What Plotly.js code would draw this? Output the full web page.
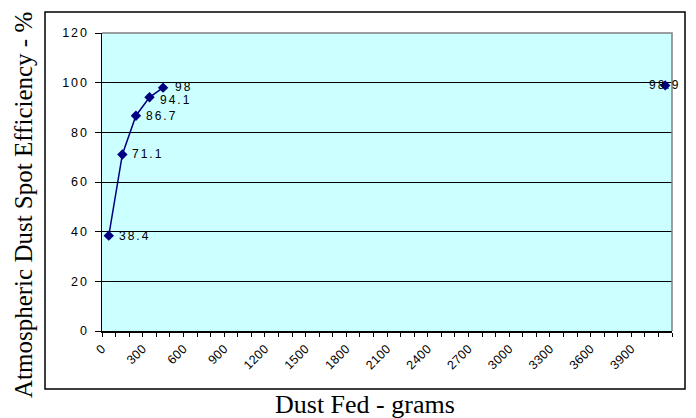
<!DOCTYPE html>
<html>
<head>
<meta charset="utf-8">
<script src="https://cdn.plot.ly/plotly-3.0.1.min.js"></script>
<style>
  html, body { margin: 0; padding: 0; background: #fff; }
  #chart { width: 696px; height: 418px; }
  .ytick text { letter-spacing: 2px; }
  .xtick text { letter-spacing: 0.3px; }
  .annotation.dl text { letter-spacing: 2px; }
</style>
</head>
<body>
<div id="chart"></div>
<script>
// Data
const dustFed = [50, 150, 250, 350, 450, 4150];
const efficiency = [38.4, 71.1, 86.7, 94.1, 98, 98.9];
const pointLabels = ['38.4', '71.1', '86.7', '94.1', '98', '98.9'];
const connectedCount = 5;
const xTickVals = [0, 300, 600, 900, 1200, 1500, 1800, 2100, 2400, 2700, 3000, 3300, 3600, 3900];
const yTickVals = [0, 20, 40, 60, 80, 100, 120];
const xTitle = 'Dust Fed - grams';
const yTitle = 'Atmospheric Dust Spot Efficiency - %';

const navy = '#000080';

const traces = [
  {
    x: dustFed.slice(0, connectedCount),
    y: efficiency.slice(0, connectedCount),
    mode: 'lines+markers',
    line: { color: navy, width: 1.5 },
    marker: { symbol: 'diamond', size: 8, color: navy },
    hoverinfo: 'x+y'
  },
  {
    x: dustFed.slice(connectedCount),
    y: efficiency.slice(connectedCount),
    mode: 'markers',
    marker: { symbol: 'diamond', size: 8, color: navy },
    hoverinfo: 'x+y'
  }
];

const labelFont = { family: 'Liberation Sans, Arial, sans-serif', size: 12, color: '#000' };
const annotations = dustFed.map((xv, i) => {
  const last = i >= connectedCount;
  return {
    x: xv, y: efficiency[i], xref: 'x', yref: 'y',
    text: pointLabels[i], showarrow: false,
    xanchor: last ? 'center' : 'left',
    yanchor: 'middle',
    xshift: last ? 0 : 12,
    yshift: (i === 3) ? -3 : (i === 4 ? 1 : 0),
    font: labelFont
  };
});

annotations.push({
  x: (365 - 102) / 570, y: (331 - 404) / 298, xref: 'paper', yref: 'paper',
  text: xTitle, showarrow: false, xanchor: 'center', yanchor: 'middle',
  font: { family: 'Liberation Serif, Times New Roman, serif', size: 26, color: '#000' }
});
annotations.push({
  x: (23 - 102) / 570, y: (331 - 205) / 298, xref: 'paper', yref: 'paper',
  text: yTitle, showarrow: false, textangle: -90, xanchor: 'center', yanchor: 'middle',
  font: { family: 'Liberation Serif, Times New Roman, serif', size: 25, color: '#000' }
});

const layout = {
  width: 696, height: 418,
  margin: { l: 102, r: 24, t: 33, b: 87 },
  paper_bgcolor: '#ffffff',
  plot_bgcolor: '#CCFFFF',
  showlegend: false,
  xaxis: {
    range: [0, 4200],
    tickmode: 'array', tickvals: xTickVals,
    tickangle: -45,
    ticks: 'outside', ticklen: 4, tickcolor: '#000', tickwidth: 1,
    minor: { dtick: 100, tick0: 0, ticks: 'outside', ticklen: 4, tickcolor: '#000', showgrid: false },
    showgrid: false, zeroline: false,
    showline: true, linecolor: '#000', linewidth: 1.5,
    tickfont: { family: 'Liberation Sans, Arial, sans-serif', size: 12.5, color: '#000' },
    fixedrange: true
  },
  yaxis: {
    range: [0, 120],
    tickmode: 'array', tickvals: yTickVals,
    ticks: 'outside', ticklen: 6, tickcolor: '#000', tickwidth: 1,
    ticklabelstandoff: 3,
    showgrid: true, gridcolor: '#000', gridwidth: 1,
    zeroline: false,
    showline: true, linecolor: '#000', linewidth: 1.5,
    tickfont: { family: 'Liberation Sans, Arial, sans-serif', size: 12.5, color: '#000' },
    fixedrange: true
  },
  shapes: [
    { type: 'path', xref: 'paper', yref: 'paper', path: 'M 0 1 L 1 1 L 1 0', line: { color: '#808080', width: 1.5 }, layer: 'above' },
    { type: 'rect', xref: 'paper', yref: 'paper',
      x0: (45 - 102) / 570, x1: (685 - 102) / 570,
      y0: (331 - 389) / 298, y1: (331 - 12) / 298,
      line: { color: '#000', width: 1.5 }, fillcolor: 'rgba(0,0,0,0)', layer: 'above' }
  ],
  annotations: annotations
};

Plotly.newPlot('chart', traces, layout, { displayModeBar: false, staticPlot: true }).then(() => {
  document.querySelectorAll('.annotation').forEach((g, i) => {
    if (i < dustFed.length) g.classList.add('dl');
  });
});
</script>
</body>
</html>
